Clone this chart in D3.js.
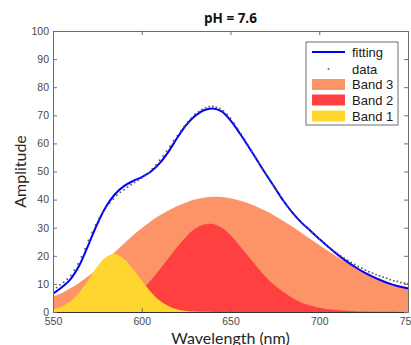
<!DOCTYPE html>
<html>
<head>
<meta charset="utf-8">
<script src="https://cdn.jsdelivr.net/npm/d3@7"></script>
<style>
    body { margin: 0; background: #fff; }
    svg { display: block; }
</style>
</head>
<body>
<script>
// wavelength grid of the fitted curves and of the measured points
const bandWavelength = d3.range(550, 751, 5);
const dataWavelength = d3.range(550, 751, 2);

// fitted Gaussian bands
const band1 = [1.0, 2.0, 3.8, 7.1, 11.5, 16.2, 19.6, 20.6, 18.9, 15.4,
    11.2, 7.2, 4.1, 2.1, 0.9, 0.4, 0.15, 0.05, 0.02, 0, 0, 0, 0, 0, 0, 0, 0, 0, 0, 0,
    0, 0, 0, 0, 0, 0, 0, 0, 0, 0, 0];
const band2 = [0.02, 0.05, 0.1, 0.2, 0.4, 0.74, 1.3, 2.2, 3.6, 5.5,
    8.0, 11.2, 15.0, 19.1, 23.1, 26.8, 29.6, 31.1, 31.3, 30.0,
    27.4, 23.7, 19.8, 16.0, 12.4, 9.4, 7.0, 5.0, 3.3, 2.3,
    1.5, 1.0, 0.7, 0.45, 0.3, 0.2, 0.13, 0.08, 0.05, 0.03, 0.02];
const band3 = [5.4, 6.8, 8.5, 10.5, 12.8, 15.5, 18.4, 21.4, 24.4, 27.2,
    29.8, 32.2, 34.3, 36.1, 37.7, 39.0, 40.0, 40.7, 41.0, 40.9,
    40.5, 39.7, 38.7, 37.4, 35.9, 34.2, 32.3, 30.3, 28.1, 26.0,
    23.8, 21.7, 19.7, 17.8, 16.0, 14.4, 12.9, 11.5, 10.3, 9.3, 8.4];
const fitting = [6.5, 8.8, 11.8, 16.8, 24.0, 31.4, 37.6, 42.0, 44.8, 46.6,
    48.0, 49.9, 52.9, 57.0, 62.0, 66.5, 69.8, 71.8, 72.4, 71.4,
    68.2, 63.8, 59.0, 54.0, 49.0, 44.2, 39.4, 35.3, 31.8, 28.9,
    26.0, 23.2, 20.6, 18.2, 16.1, 14.2, 12.6, 11.2, 10.0, 9.1, 8.4];

// measured spectrum, every 2 nm
const measured = [7.8, 8.7, 9.6, 10.6, 11.7, 13.0, 14.9, 17.1, 19.6, 22.5,
    25.5, 28.3, 31.0, 33.4, 35.4, 37.2, 38.8, 40.2, 41.6, 42.6,
    43.5, 44.4, 45.3, 46.1, 46.9, 47.7, 48.6, 49.6, 51.0, 52.4,
    54.0, 55.5, 57.2, 59.0, 61.0, 62.7, 64.5, 66.1, 67.7, 69.0,
    70.4, 71.3, 72.1, 72.7, 73.1, 73.2, 72.9, 72.4, 71.6, 70.4,
    69.0, 67.2, 65.3, 63.4, 61.4, 59.3, 57.2, 55.1, 53.0, 51.0,
    49.0, 47.1, 45.2, 43.2, 41.3, 39.4, 37.7, 36.1, 34.6, 33.2,
    31.8, 30.6, 29.5, 28.3, 27.1, 26.0, 24.9, 23.9, 22.8, 21.8,
    20.9, 20.0, 19.2, 18.4, 17.6, 16.9, 16.2, 15.6, 14.9, 14.3,
    13.8, 13.3, 12.9, 12.4, 12.0, 11.5, 11.1, 10.9, 10.5, 10.3, 10.1];

const xTicks = [550, 600, 650, 700, 750];
const yTicks = [0, 10, 20, 30, 40, 50, 60, 70, 80, 90, 100];

const legendLabels = ["fitting", "data", "Band 3", "Band 2", "Band 1"];
const bandColors = {band3: "rgb(253,148,104)", band2: "rgb(255,64,64)", band1: "rgb(255,214,48)"};

window.onload = function () {
    drawChart();
}

function drawChart() {
    let vis = {};
    vis.width = 411;
    vis.height = 345;
    vis.left = 53;
    vis.right = 408;
    vis.top = 31;
    vis.bottom = 312;

    vis.x = d3.scaleLinear().domain([550, 750]).range([vis.left, vis.right]);
    vis.y = d3.scaleLinear().domain([0, 100]).range([vis.bottom, vis.top]);

    vis.svg = d3.select("body")
        .append("svg")
        .attr("width", vis.width)
        .attr("height", vis.height);

    vis.svg.append("clipPath")
        .attr("id", "plotClip")
        .append("rect")
        .attr("x", vis.left)
        .attr("y", vis.top)
        .attr("width", vis.right - vis.left)
        .attr("height", vis.bottom - vis.top);

    let plot = vis.svg.append("g").attr("clip-path", "url(#plotClip)");

    //Filled bands, widest at the back
    const area = d3.area()
        .x((d, i) => vis.x(bandWavelength[i]))
        .y0(vis.y(0))
        .y1(d => vis.y(d))
        .curve(d3.curveCatmullRom);

    [["band3", band3], ["band2", band2], ["band1", band1]].forEach(function (b) {
        plot.append("path")
            .datum(b[1])
            .attr("d", area)
            .attr("fill", bandColors[b[0]]);
    });

    //Fitted curve
    const line = d3.line()
        .x((d, i) => vis.x(bandWavelength[i]))
        .y(d => vis.y(d))
        .curve(d3.curveCatmullRom);

    plot.append("path")
        .datum(fitting)
        .attr("d", line)
        .attr("fill", "none")
        .attr("stroke", "#0000ff")
        .attr("stroke-width", 2);

    //Measured points
    plot.selectAll("rect.dot")
        .data(measured)
        .enter()
        .append("rect")
        .attr("class", "dot")
        .attr("x", (d, i) => vis.x(dataWavelength[i]) - 0.8)
        .attr("y", d => vis.y(d) - 0.8)
        .attr("width", 1.6)
        .attr("height", 1.6)
        .attr("fill", "#555");

    drawAxes(vis);
    drawLegend(vis);
}

function drawAxes(vis) {
    const tickFont = "'Liberation Sans', Arial, sans-serif";

    let xAxis = vis.svg.append("g")
        .attr("transform", "translate(0," + vis.bottom + ")")
        .call(d3.axisBottom(vis.x).tickValues(xTicks).tickSizeInner(-4).tickSizeOuter(0).tickPadding(6));

    let yAxis = vis.svg.append("g")
        .attr("transform", "translate(" + vis.left + ",0)")
        .call(d3.axisLeft(vis.y).tickValues(yTicks).tickSizeInner(-4).tickSizeOuter(0).tickPadding(4));

    let topAxis = vis.svg.append("g")
        .attr("transform", "translate(0," + vis.top + ")")
        .call(d3.axisTop(vis.x).tickValues(xTicks).tickSizeInner(-4).tickSizeOuter(0).tickFormat(""));

    let rightAxis = vis.svg.append("g")
        .attr("transform", "translate(" + vis.right + ",0)")
        .call(d3.axisRight(vis.y).tickValues(yTicks).tickSizeInner(-4).tickSizeOuter(0).tickFormat(""));

    [xAxis, yAxis, topAxis, rightAxis].forEach(function (a) {
        a.selectAll("path, line").attr("stroke", "#6e6e6e");
        a.selectAll("text")
            .attr("fill", "#4a4a4a")
            .style("font-family", tickFont)
            .style("font-size", "10.5px");
    });
    xAxis.select("path.domain").attr("stroke", "#333");

    //Title and axis labels
    vis.svg.append("text")
        .attr("x", (vis.left + vis.right) / 2)
        .attr("y", 23)
        .attr("text-anchor", "middle")
        .style("font-family", "'Open Sans', sans-serif")
        .style("font-weight", "bold")
        .style("font-size", "13.5px")
        .attr("fill", "#111")
        .text("pH = 7.6");

    vis.svg.append("text")
        .attr("x", (vis.left + vis.right) / 2)
        .attr("y", 344)
        .attr("text-anchor", "middle")
        .style("font-family", "Lato, sans-serif")
        .style("font-size", "16px")
        .attr("fill", "#262626")
        .text("Wavelength (nm)");

    vis.svg.append("text")
        .attr("transform", "translate(26," + (vis.top + vis.bottom) / 2 + ") rotate(-90)")
        .attr("text-anchor", "middle")
        .style("font-family", "Lato, sans-serif")
        .style("font-size", "16px")
        .attr("fill", "#262626")
        .text("Amplitude");
}

function drawLegend(vis) {
    const boxX = 306, boxY = 42, boxW = 92, boxH = 83;
    const rowY = [52, 69, 84.5, 100, 116];

    let legend = vis.svg.append("g");

    legend.append("rect")
        .attr("x", boxX)
        .attr("y", boxY)
        .attr("width", boxW)
        .attr("height", boxH)
        .attr("fill", "#fff")
        .attr("stroke", "#6e6e6e");

    //fitting
    legend.append("line")
        .attr("x1", 312).attr("x2", 345)
        .attr("y1", rowY[0]).attr("y2", rowY[0])
        .attr("stroke", "#0000ff")
        .attr("stroke-width", 2);

    //data
    legend.append("rect")
        .attr("x", 327.7).attr("y", rowY[1] - 0.8)
        .attr("width", 1.6).attr("height", 1.6)
        .attr("fill", "#555");

    //bands
    [bandColors.band3, bandColors.band2, bandColors.band1].forEach(function (c, i) {
        legend.append("rect")
            .attr("x", 312)
            .attr("y", rowY[i + 2] - 5.5)
            .attr("width", 33)
            .attr("height", 11)
            .attr("fill", c);
    });

    legend.selectAll("text")
        .data(legendLabels)
        .enter()
        .append("text")
        .attr("x", 352)
        .attr("y", (d, i) => rowY[i])
        .attr("dy", "0.35em")
        .style("font-family", "'Liberation Sans', Arial, sans-serif")
        .style("font-size", "13px")
        .attr("fill", "#1a1a1a")
        .text(d => d);
}
</script>
</body>
</html>
